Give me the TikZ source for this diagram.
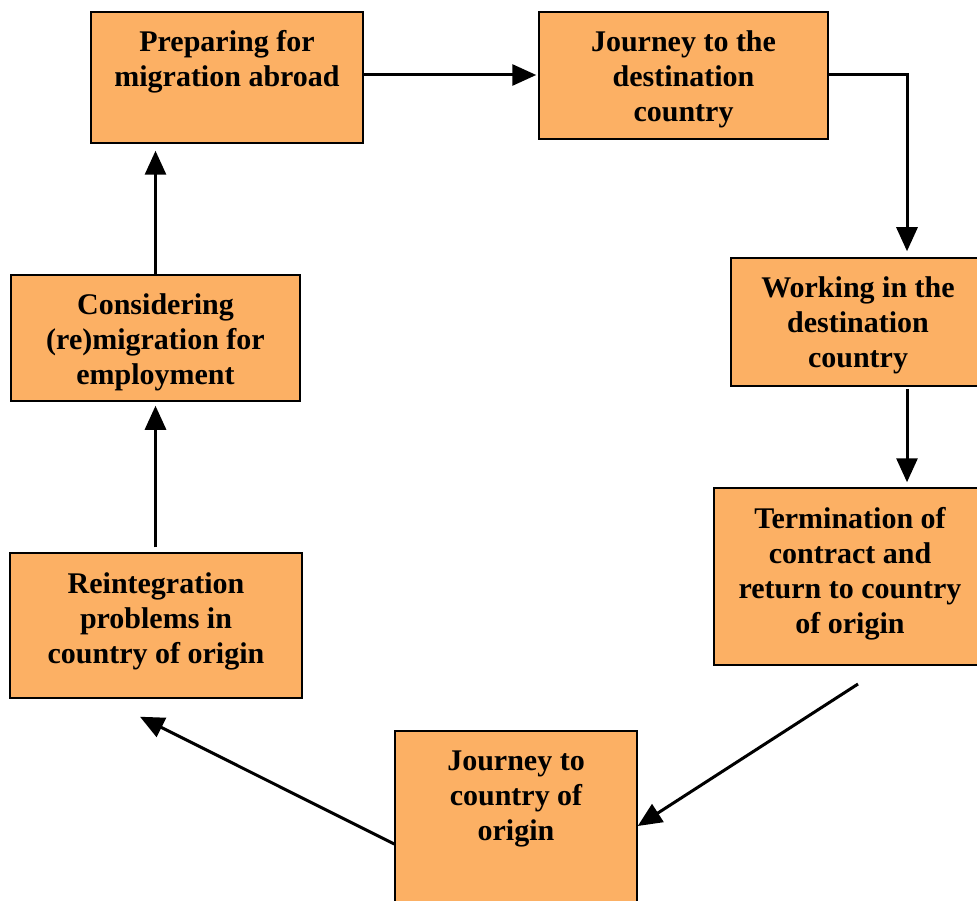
\documentclass[tikz,border=0pt]{standalone}
\usepackage{fontspec}
\setmainfont{Liberation Serif}
\usepackage{xcolor}
\usetikzlibrary{arrows.meta,positioning,calc}

\definecolor{boxorange}{HTML}{FCB064}

\begin{document}
\begin{tikzpicture}[
    x=1pt,y=-1pt,
    >={Triangle[length=24pt,width=21pt]},
    arr/.style={->,line width=3pt},
    stage/.style={rectangle,draw,line width=1.5pt,fill=boxorange,inner sep=0pt},
    txt/.style={anchor=north,inner sep=0pt,align=center,
      font=\fontsize{30}{35}\selectfont\bfseries}]
  \useasboundingbox (0,0) rectangle (977,901);
  \clip (0,0) rectangle (977,901);
  % ---- stages ----
  \node[stage,minimum width=272pt,minimum height=131pt] (prep)   at (227,77.5)  {};
  \node[stage,minimum width=289pt,minimum height=127pt] (jdest)  at (683.5,75.5) {};
  \node[stage,minimum width=254pt,minimum height=128pt] (work)   at (858,322)   {};
  \node[stage,minimum width=272pt,minimum height=177pt] (term)   at (850,576.5) {};
  \node[stage,minimum width=242pt,minimum height=190pt] (jorig)  at (516,826)   {};
  \node[stage,minimum width=292pt,minimum height=145pt] (reint)  at (156,625.5) {};
  \node[stage,minimum width=289pt,minimum height=126pt] (consid) at (155.5,338) {};
  % ---- texts ----
  \node[txt,below=19pt of prep.north]   (prept)   {Preparing for\\migration abroad};
  \node[txt,below=19pt of jdest.north]  (jdestt)  {Journey to the\\destination\\country};
  \node[txt,below=19pt of work.north]   (workt)   {Working in the\\destination\\country};
  \node[txt,below=20pt of term.north]   (termt)   {Termination of\\contract and\\return to country\\of origin};
  \node[txt,below=20pt of jorig.north]  (jorigt)  {Journey to\\country of\\origin};
  \node[txt,below=20pt of reint.north]  (reintt)  {Reintegration\\problems in\\country of origin};
  \node[txt,below=19pt of consid.north] (considt) {Considering\\(re)migration for\\employment};
  % ---- connectors ----
  \coordinate (tstart) at (858,684);
  \coordinate (rend) at ([xshift=-16pt,yshift=-18pt]reint.south);
  \draw[arr,shorten >=2pt] (prep.east |- 0,75) -- (jdest.west |- 0,75);
  \draw[arr,shorten >=6pt] (jdest.east |- 0,75) -| (work.north -| 907,0);
  \draw[arr,shorten <=2pt,shorten >=5pt] (work.south -| 907,0) -- (term.north -| 907,0);
  \draw[arr] (tstart) -- (jorig.east);
  \draw[arr] ([yshift=-18pt]jorig.west) -- (rend);
  \draw[arr,shorten <=5pt,shorten >=4pt] (reint.north -| consid.south) -- (consid.south);
  \draw[arr,shorten >=7pt] (consid.north) -- (prep.south -| consid.north);
\end{tikzpicture}
\end{document}
